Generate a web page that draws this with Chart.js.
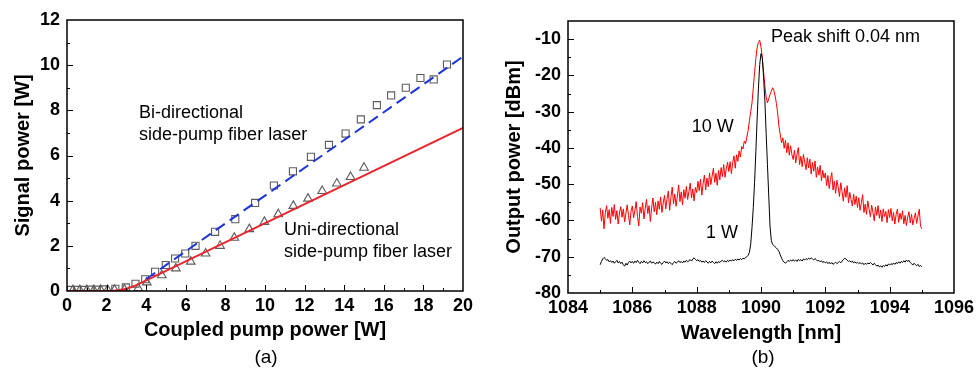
<!DOCTYPE html>
<html>
<head>
<meta charset="utf-8">
<script src="https://cdn.jsdelivr.net/npm/chart.js@4.4.0/dist/chart.umd.min.js"></script>
<style>
body{margin:0;background:#fff;width:979px;height:372px;position:relative;overflow:hidden;font-family:"Liberation Sans",Arial,sans-serif}
canvas{position:absolute;top:0}
#ca{left:0}
#cb{left:490px}
.cap{position:absolute;top:346px;font-size:19px;width:40px;text-align:center;color:#000}
</style>
</head>
<body>
<canvas id="ca" width="490" height="372"></canvas>
<canvas id="cb" width="489" height="372"></canvas>
<div class="cap" style="left:246px">(a)</div>
<div class="cap" style="left:743px">(b)</div>
<script>
// ---- panel (a): signal vs coupled pump power ----
const pumpBi = [0.2, 0.5, 0.85, 1.2, 1.5, 1.85, 2.44, 2.97, 3.46, 3.95, 4.45, 4.99, 5.46, 5.97, 6.49, 7.48, 8.5, 9.5, 10.45, 11.41, 12.32, 13.23, 14.07, 14.84, 15.65, 16.37, 17.11, 17.85, 18.52, 19.19];
const signalBi = [0.05, 0.05, 0.05, 0.06, 0.06, 0.07, 0.1, 0.16, 0.32, 0.52, 0.85, 1.15, 1.44, 1.66, 2.0, 2.62, 3.18, 3.9, 4.67, 5.3, 5.94, 6.47, 6.97, 7.6, 8.23, 8.66, 9.0, 9.43, 9.37, 10.03];
const pumpUni = [0.3, 0.65, 1.0, 1.35, 1.7, 2.05, 2.4, 2.9, 3.6, 4.03, 4.79, 5.5, 6.25, 7.0, 7.73, 8.45, 9.21, 9.97, 10.67, 11.43, 12.17, 12.89, 13.63, 14.32, 15.0];
const signalUni = [0.04, 0.04, 0.04, 0.04, 0.05, 0.05, 0.05, 0.06, 0.12, 0.38, 0.7, 1.0, 1.3, 1.66, 2.0, 2.36, 2.74, 3.06, 3.4, 3.77, 4.09, 4.43, 4.76, 5.05, 5.46];
const fitBiX = [4.0, 20];
const fitBiY = [0.53, 10.38];
const fitUniX = [0, 2.2, 2.6, 3.0, 3.4, 20];
const fitUniY = [0, 0, 0.03, 0.1, 0.22, 7.22];
const pumpTicks = [0, 2, 4, 6, 8, 10, 12, 14, 16, 18, 20];
const signalTicks = [0, 2, 4, 6, 8, 10, 12];

// ---- panel (b): optical spectra, 0.04 nm grid from 1085 nm ----
const wlStart = 1085;
const wlStep = 0.04;
const spec10W = [
  -56.5, -60.2, -57.1, -62.3, -57.8, -55.9, -59.4, -57.0, -60.8, -56.4, -58.9, -55.6, -59.7, -57.3, -61.0, -57.9, -56.2, -59.1, -56.8, -60.4, -58.0, -55.7, -58.6, -61.2, -57.4,
  -56.0, -59.3, -57.2, -54.8, -58.9, -61.5, -56.3, -58.0, -55.1, -59.6, -56.7, -54.2, -58.1, -55.9, -60.3, -56.5, -53.8, -57.6, -55.0, -58.4, -54.6, -56.9, -53.5, -57.8, -55.2,
  -53.1, -56.8, -54.0, -51.9, -57.2, -53.6, -50.8, -55.4, -52.7, -56.1, -53.3, -50.2, -54.8, -52.1, -55.7, -51.5, -53.9, -50.6, -54.2, -52.0, -49.7, -53.8, -51.3, -54.6, -50.9,
  -52.3, -49.2, -51.8, -48.6, -53.0, -49.9, -47.5, -51.6, -48.3, -50.7, -46.9, -50.1, -47.8, -45.6, -49.5, -47.0, -50.3, -46.2, -48.8, -45.4, -47.9, -44.6, -48.1, -45.8, -43.9,
  -46.5, -43.8, -47.1, -44.0, -42.2, -45.6, -41.9, -43.7, -40.8, -42.5, -39.6, -40.3, -38.1, -38.8, -37.0, -35.2, -32.5, -30.0, -27.6, -23.5, -19.2, -15.3, -12.4, -10.9, -10.3,
  -12.2, -15.0, -19.1, -22.9, -26.0, -27.6, -26.4, -25.3, -24.4, -23.4, -24.1, -25.7, -27.8, -30.6, -34.2, -36.4, -38.6, -37.2, -40.1, -37.9, -41.3, -38.6, -42.0, -39.4, -41.8,
  -43.2, -40.6, -44.1, -41.7, -39.9, -44.6, -42.3, -45.2, -41.8, -43.9, -46.0, -42.7, -45.5, -43.1, -47.2, -44.0, -46.4, -43.6, -48.1, -45.3, -47.5, -44.8, -49.0, -46.2, -48.3,
  -46.9, -50.4, -47.6, -51.2, -48.7, -46.8, -51.6, -49.2, -52.5, -48.9, -50.8, -53.4, -49.6, -52.1, -54.7, -51.0, -53.6, -50.4, -55.1, -52.3, -54.2, -56.0, -52.8, -55.6, -53.3,
  -56.4, -53.7, -57.2, -55.1, -52.9, -57.8, -55.5, -58.3, -54.6, -56.9, -59.0, -55.8, -57.7, -60.1, -56.3, -58.6, -55.9, -59.4, -57.1, -60.3, -56.8, -58.9, -57.5, -60.6, -57.0,
  -59.2, -56.7, -60.1, -57.8, -61.0, -58.4, -56.9, -60.5, -58.0, -59.7, -57.3, -60.9, -58.6, -61.4, -59.1, -57.6, -60.7, -58.3, -61.2, -59.5, -57.9, -60.8, -58.8, -56.9, -61.5,
  -62.3
];
const spec1W = [
  -72.2, -71.3, -70.6, -70.2, -70.5, -71.0, -70.8, -71.4, -71.1, -71.6, -71.2, -71.8, -71.4, -71.0, -71.7, -71.3, -71.9, -71.5, -72.2, -72.6, -71.8, -72.3, -71.6, -71.2, -71.7,
  -71.3, -71.8, -71.2, -71.6, -71.0, -71.5, -71.9, -71.3, -71.7, -71.1, -71.6, -71.4, -71.9, -71.5, -71.2, -71.8, -71.4, -71.7, -72.0, -71.5, -71.9, -71.3, -71.8, -72.1, -71.6,
  -71.2, -71.7, -71.4, -71.9, -71.5, -71.8, -72.2, -71.6, -71.3, -71.8, -71.5, -71.1, -71.6, -71.3, -71.7, -71.2, -71.5, -71.0, -71.4, -71.1, -70.8, -71.2, -70.6, -70.3, -70.7,
  -71.1, -70.8, -71.3, -71.0, -71.5, -71.2, -71.6, -71.1, -71.4, -71.8, -71.3, -71.7, -71.2, -71.6, -71.9, -71.4, -71.8, -71.3, -71.6, -71.2, -71.0, -71.4, -71.1, -71.5, -71.0,
  -71.3, -70.9, -71.2, -70.8, -71.1, -70.7, -71.0, -70.6, -70.9, -70.5, -70.8, -70.4, -70.6, -70.2, -70.0, -69.6, -68.8, -66.5, -62.0, -56.5, -49.5, -41.0, -32.0, -23.5, -17.0,
  -14.0, -15.2, -20.5, -27.0, -36.0, -44.5, -53.0, -61.5, -65.5, -66.6, -66.9, -67.3, -67.6, -68.0, -68.6, -69.5, -70.4, -71.1, -71.5, -71.8, -71.4, -71.0, -71.3, -70.9, -71.2,
  -70.8, -71.2, -70.9, -71.3, -70.7, -71.1, -70.8, -71.2, -70.6, -70.9, -70.5, -70.8, -70.4, -70.7, -70.3, -70.6, -70.9, -70.5, -70.8, -71.2, -71.0, -71.4, -71.1, -71.6, -71.3,
  -71.7, -71.4, -71.9, -71.5, -72.0, -71.6, -72.1, -71.8, -71.5, -71.9, -71.6, -71.3, -71.7, -71.2, -70.8, -70.4, -70.6, -71.0, -71.3, -71.1, -71.5, -71.2, -71.7, -71.4, -71.8,
  -71.5, -71.9, -71.6, -72.0, -71.7, -72.2, -71.8, -72.1, -71.7, -72.0, -71.6, -71.9, -72.3, -71.8, -72.2, -72.6, -72.3, -72.8, -72.5, -72.9, -72.4, -72.7, -72.2, -72.6, -72.0,
  -72.3, -71.9, -72.2, -71.7, -72.1, -71.6, -71.9, -71.4, -71.8, -71.3, -71.6, -71.1, -71.5, -70.9, -71.3, -71.0, -71.6, -71.9, -72.3, -71.8, -72.2, -72.5, -72.1, -72.7, -72.4,
  -72.8
];
const wlTicks = [1084, 1086, 1088, 1090, 1092, 1094, 1096];
const dbmTicks = [-80, -70, -60, -50, -40, -30, -20, -10];

const tickFont = { family: 'Liberation Sans', size: 18, weight: 'bold' };
const titleFont = { family: 'Liberation Sans', size: 20, weight: 'bold' };

function pts(xs, ys) {
  return xs.map((x, i) => ({ x: x, y: ys[i] }));
}

function isMajor(v, min, step) {
  const k = (v - min) / step;
  return Math.abs(k - Math.round(k)) < 1e-6;
}

// frame, inward ticks and text notes
const frameTicks = {
  id: 'frameTicks',
  afterDatasetsDraw(chart, args, opts) {
    const { ctx, chartArea: a, scales: { x, y } } = chart;
    ctx.save();
    ctx.strokeStyle = '#000';
    ctx.lineWidth = 1;
    ctx.beginPath();
    const nx = Math.round((x.max - x.min) / opts.xMinor);
    for (let i = 1; i < nx; i++) {
      const v = x.min + i * opts.xMinor;
      const px = Math.round(x.getPixelForValue(v)) + 0.5;
      const len = isMajor(v, x.min, opts.xMajor) ? 6 : 3;
      ctx.moveTo(px, a.bottom);
      ctx.lineTo(px, a.bottom - len);
    }
    const ny = Math.round((y.max - y.min) / opts.yMinor);
    for (let i = 1; i < ny; i++) {
      const v = y.min + i * opts.yMinor;
      const py = Math.round(y.getPixelForValue(v)) + 0.5;
      const len = isMajor(v, y.min, opts.yMajor) ? 6 : 3;
      ctx.moveTo(a.left, py);
      ctx.lineTo(a.left + len, py);
    }
    ctx.stroke();
    ctx.lineWidth = 1.5;
    ctx.strokeRect(a.left, a.top, a.width, a.height);

    ctx.fillStyle = '#000';
    ctx.font = '18px "Liberation Sans", Arial, sans-serif';
    ctx.textBaseline = 'middle';
    ctx.textAlign = 'left';
    opts.notes.forEach(n => {
      ctx.fillText(n.text, x.getPixelForValue(n.x), y.getPixelForValue(n.y));
    });
    ctx.restore();
  }
};

function scaleOpts(min, max, tickList, title, titlePad, tickPad) {
  return {
    type: 'linear',
    min: min,
    max: max,
    grid: { display: false, drawTicks: false },
    border: { display: false },
    afterBuildTicks: s => { s.ticks = tickList.map(v => ({ value: v })); },
    ticks: {
      font: tickFont, color: '#000', padding: tickPad, autoSkip: false, maxRotation: 0,
      callback: v => String(v)
    },
    title: { display: true, text: title, font: titleFont, color: '#000', padding: titlePad }
  };
}

// ---- chart (a) ----
const xa = scaleOpts(0, 20, pumpTicks, 'Coupled pump power [W]', { top: 0, bottom: 30 }, 4);
xa.afterFit = s => { s.height = 81; };
const ya = scaleOpts(0, 12, signalTicks, 'Signal power [W]', { top: 11, bottom: 0 }, 7);
ya.afterFit = s => { s.width = 67; };

new Chart(document.getElementById('ca'), {
  type: 'scatter',
  data: {
    datasets: [
      {
        data: pts(fitBiX, fitBiY), showLine: true, pointRadius: 0,
        borderColor: '#1d35d8', borderWidth: 2, borderDash: [11, 6]
      },
      {
        data: pts(fitUniX, fitUniY), showLine: true, pointRadius: 0,
        borderColor: '#e8262d', borderWidth: 2, tension: 0
      },
      {
        data: pts(pumpBi, signalBi), pointStyle: 'rect', pointRadius: 5,
        borderColor: '#5c5c5c', backgroundColor: 'rgba(255,255,255,0)', pointBorderWidth: 1.1
      },
      {
        data: pts(pumpUni, signalUni), pointStyle: 'triangle', pointRadius: 5,
        borderColor: '#5c5c5c', backgroundColor: 'rgba(255,255,255,0)', pointBorderWidth: 1.1
      }
    ]
  },
  options: {
    responsive: false,
    animation: false,
    layout: { padding: { left: 0, right: 27, top: 20, bottom: 0 } },
    plugins: {
      legend: { display: false },
      tooltip: { enabled: false },
      frameTicks: {
        xMinor: 1, xMajor: 2, yMinor: 1, yMajor: 2,
        notes: [
          { text: 'Bi-directional', x: 3.64, y: 7.88 },
          { text: 'side-pump fiber laser', x: 3.64, y: 6.9 },
          { text: 'Uni-directional', x: 10.96, y: 2.7 },
          { text: 'side-pump fiber laser', x: 10.96, y: 1.73 }
        ]
      }
    },
    scales: { x: xa, y: ya }
  },
  plugins: [frameTicks]
});

// ---- chart (b) ----
const wavelengths = spec10W.map((_, i) => +(wlStart + i * wlStep).toFixed(2));
const xb = scaleOpts(1084, 1096, wlTicks, 'Wavelength [nm]', { top: 0, bottom: 27 }, 4);
xb.afterFit = s => { s.height = 79; };
const yb = scaleOpts(-80, -5, dbmTicks, 'Output power [dBm]', { top: 12, bottom: 0 }, 7);
yb.afterFit = s => { s.width = 78; };

new Chart(document.getElementById('cb'), {
  type: 'scatter',
  data: {
    datasets: [
      {
        data: pts(wavelengths, spec1W), showLine: true, pointRadius: 0,
        borderColor: '#000', borderWidth: 1, tension: 0
      },
      {
        data: pts(wavelengths, spec10W), showLine: true, pointRadius: 0,
        borderColor: '#ff0000', borderWidth: 1, tension: 0
      }
    ]
  },
  options: {
    responsive: false,
    animation: false,
    layout: { padding: { left: 0, right: 25, top: 21, bottom: 0 } },
    plugins: {
      legend: { display: false },
      tooltip: { enabled: false },
      frameTicks: {
        xMinor: 1, xMajor: 2, yMinor: 5, yMajor: 10,
        notes: [
          { text: 'Peak shift 0.04 nm', x: 1090.31, y: -9.4 },
          { text: '10 W', x: 1087.85, y: -34.2 },
          { text: '1 W', x: 1088.29, y: -63.5 }
        ]
      }
    },
    scales: { x: xb, y: yb }
  },
  plugins: [frameTicks]
});
</script>
</body>
</html>
